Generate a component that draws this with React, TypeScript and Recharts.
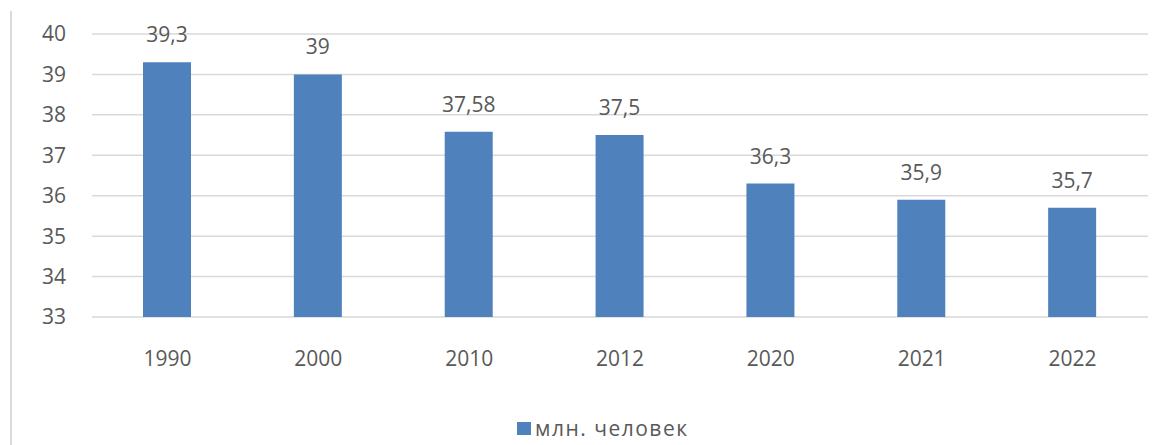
import { BarChart, Bar, XAxis, YAxis, CartesianGrid, LabelList, Legend } from "recharts"

const years = ["1990", "2000", "2010", "2012", "2020", "2021", "2022"]
const population = [39.3, 39, 37.58, 37.5, 36.3, 35.9, 35.7]
const yTicks = [33, 34, 35, 36, 37, 38, 39, 40]
const seriesName = "млн. человек"

const data = years.map((y, i) => ({ year: y, value: population[i] }))

const FONT = "'Open Sans', 'Noto Sans', sans-serif"
const TEXT = "#595959"
const BLUE = "#4f81bd"
const FS = 21

const LegendBox = () => (
  <div style={{ display: "flex", alignItems: "center", fontFamily: FONT, fontSize: FS, color: TEXT, letterSpacing: 1.5 }}>
    <span style={{ width: 14, height: 13, background: BLUE, display: "inline-block", marginRight: 4 }} />
    <span>{seriesName}</span>
  </div>
)

export default function App() {
  return (
    <div style={{ position: "absolute", left: 0, top: 0, width: 1164, height: 445, background: "#fff" }}>
      <div style={{ position: "absolute", left: 10, top: 11, bottom: 0, borderLeft: "2px solid #d9d9d9" }} />
      <BarChart
        width={1164}
        height={445}
        data={data}
        margin={{ top: 34, right: 16, left: 0, bottom: 68 }}
        style={{ fontFamily: FONT }}
      >
        <CartesianGrid vertical={false} stroke="#d9d9d9" strokeWidth={1.5} />
        <XAxis
          dataKey="year"
          axisLine={false}
          tickLine={false}
          tickMargin={28}
          height={60}
          tick={{ fontSize: FS, fill: TEXT }}
        />
        <YAxis
          domain={[33, 40]}
          ticks={yTicks}
          axisLine={false}
          tickLine={false}
          tickMargin={20}
          width={92}
          tick={{ fontSize: FS, fill: TEXT }}
        />
        <Legend
          layout="horizontal"
          verticalAlign="middle"
          align="center"
          content={<LegendBox />}
          wrapperStyle={{ left: 517, top: 414, width: "auto" }}
        />
        <Bar dataKey="value" name={seriesName} fill={BLUE} barSize={48} isAnimationActive={false}>
          <LabelList
            dataKey="value"
            position="top"
            offset={20}
            fill={TEXT}
            fontSize={FS}
            formatter={(v: any) => String(v).replace(".", ",")}
          />
        </Bar>
      </BarChart>
    </div>
  )
}
